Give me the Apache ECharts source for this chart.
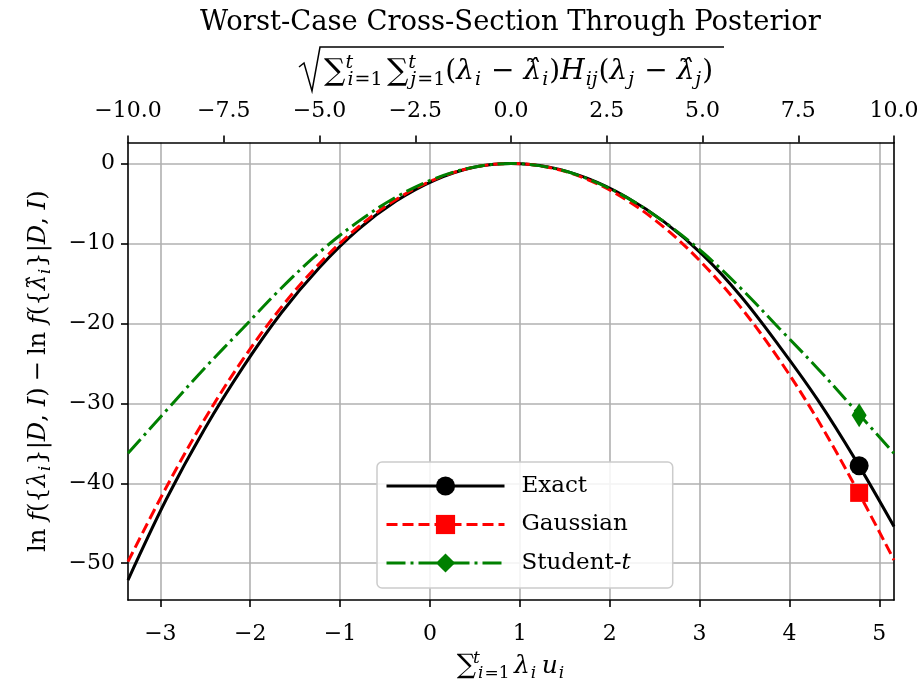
<!DOCTYPE html>
<html>
<head>
<meta charset="utf-8">
<script src="https://cdn.jsdelivr.net/npm/echarts@6/dist/echarts.min.js"></script>
<style>
html,body{margin:0;padding:0;background:#fff;}
#chart{width:923px;height:688px;}
</style>
</head>
<body>
<div id="chart"></div>
<script>
// ---- data ----
// top-axis coordinate s (Mahalanobis distance, signed)
const sValues   = [-10, -9, -8, -7, -6, -5, -4, -3, -2, -1, 0, 1, 2, 3, 4, 5, 6, 7, 8, 9, 10];
const exactY    = [-52.1, -42.0, -33.2, -25.5, -18.7, -13.0, -8.3, -4.7, -2.1, -0.5, 0, -0.45, -1.85, -4.15, -7.3, -11.4, -16.6, -22.8, -29.5, -37.1, -45.4];
const gaussY    = [-49.8, -40.5, -32.0, -24.5, -18.0, -12.5, -8.0, -4.5, -2.0, -0.5, 0, -0.5, -2.0, -4.5, -8.0, -12.5, -18.0, -24.5, -32.0, -40.5, -49.6];
const studentY  = [-36.25, -30.9, -25.6, -20.6, -15.6, -11.1, -7.3, -4.2, -1.9, -0.48, 0, -0.48, -1.9, -4.2, -7.3, -11.1, -15.6, -20.6, -25.6, -30.9, -36.25];
// single highlighted marker per series
const markerS        = 9.09;
const markerExact    = -37.8;
const markerGauss    = -41.2;
const markerStudent  = -31.5;
// axis ticks
const bottomTicks = [-3, -2, -1, 0, 1, 2, 3, 4, 5];
const leftTicks   = [-50, -40, -30, -20, -10, 0];
const seriesNames = ['Exact', 'Gaussian', 'Student-t'];

const FONT = 'DejaVu Serif';
const minus = v => (v < 0 ? '\u2212' : '') + Math.abs(v);

function pairs(xs, ys) { return xs.map((x, i) => [x, ys[i]]); }

function makeRich(main, sub, lh, opPad) {
  return {
    r:    {fontFamily: FONT, fontSize: main, lineHeight: lh, color: '#000'},
    op:   {fontFamily: FONT, fontSize: main, lineHeight: lh, color: '#000', padding: [0, opPad, 0, opPad]},
    i:    {fontFamily: FONT, fontSize: main, fontStyle: 'italic', lineHeight: lh, color: '#000'},
    sum:  {fontFamily: FONT, fontSize: main + 2, lineHeight: lh, color: '#000'},
    sup0: {fontFamily: FONT, fontSize: sub, fontStyle: 'italic', lineHeight: sub, verticalAlign: 'top', width: 1, color: '#000'},
    subi: {fontFamily: FONT, fontSize: sub, fontStyle: 'italic', lineHeight: sub, verticalAlign: 'bottom', color: '#000', padding: [0, 1, 0, 1]},
    subr: {fontFamily: FONT, fontSize: sub, lineHeight: sub, verticalAlign: 'bottom', color: '#000'},
    sp:   {fontFamily: FONT, fontSize: 14, lineHeight: lh}
  };
}
const richTop = makeRich(28, 19, 36, 9);
const richAxis = makeRich(24.2, 16.5, 31, 6);
const richBottom = makeRich(25, 17, 32, 6);

const topFormula = '{sum|∑}{sup0|t}{subi|i}{subr|=1}{sp| }{sum|∑}{sup0|t}{subi|j}{subr|=1}{r|(}{i|λ}{subi|i}{op|−}{i|λ̂}{subi|i}{r|)}{i|H}{subi|ij}{r|(}{i|λ}{subi|j}{op|−}{i|λ̂}{subi|j}{r|)}';
const bottomName = '{sum|∑}{sup0|t}{subi|i}{subr|=1}{sp| }{i|λ}{subi|i}{sp| }{i|u}{subi|i}';
const leftName = '{r|ln }{i|f}{r|(\{}{i|λ}{subi|i}}{r||}{i|D}{r|, }{i|I}{r|)}{op|−}{r|ln }{i|f}{r|(\{}{i|λ̂}{subi|i}}{r||}{i|D}{r|, }{i|I}{r|)}';

const axisLineStyle = {color: '#000', width: 1.6};
const chart = echarts.init(document.getElementById('chart'), null, {renderer: 'canvas'});

const lineColors = ['#000000', '#ff0000', '#008000'];
const lineTypes = ['solid', [11, 5], [19, 5, 3, 5]];
const symbols = ['circle', 'rect', 'diamond'];
const ys = [exactY, gaussY, studentY];
const markerVals = [markerExact, markerGauss, markerStudent];
const markerSizes = [19, 18, [15, 24]];

const series = seriesNames.map((name, k) => ({
  name: name,
  type: 'line',
  xAxisIndex: 1,
  yAxisIndex: 0,
  data: pairs(sValues, ys[k]),
  smooth: 0.35,
  symbol: symbols[k],
  showSymbol: false,
  lineStyle: {color: lineColors[k], width: 3, type: lineTypes[k]},
  itemStyle: {color: lineColors[k]},
  z: 3 + k,
  markPoint: {
    silent: true,
    symbol: symbols[k],
    symbolSize: markerSizes[k],
    itemStyle: {color: lineColors[k]},
    label: {show: false},
    data: [{coord: [markerS, markerVals[k]]}]
  }
}));

const option = {
  animation: false,
  backgroundColor: '#fff',
  title: {
    text: 'Worst-Case Cross-Section Through Posterior',
    left: 195,
    top: 4,
    textStyle: {fontFamily: FONT, fontSize: 27.4, fontWeight: 'normal', color: '#000'}
  },
  grid: {left: 128, right: 29, top: 142.5, bottom: 88, containLabel: false},
  legend: {
    orient: 'vertical',
    left: 377,
    top: 462,
    itemWidth: 118,
    itemHeight: 24,
    itemGap: 14.5,
    padding: [12, 42, 13, 8],
    backgroundColor: 'rgba(255,255,255,0.85)',
    borderColor: '#cccccc',
    borderWidth: 1.5,
    borderRadius: 5,
    data: seriesNames,
    lineStyle: {width: 3},
    formatter: n => n === 'Student-t' ? 'Student-{it|t}' : n,
    textStyle: {
      fontFamily: FONT, fontSize: 23, color: '#000', lineHeight: 24, padding: [0, 0, 0, 12],
      rich: {it: {fontFamily: FONT, fontSize: 23, fontStyle: 'italic', color: '#000'}}
    }
  },
  xAxis: [
    {
      type: 'value',
      position: 'bottom',
      min: -3.36,
      max: 5.164,
      axisLine: {show: true, onZero: false, lineStyle: axisLineStyle},
      axisTick: {show: true, length: 7, lineStyle: axisLineStyle, customValues: bottomTicks},
      axisLabel: {customValues: bottomTicks, formatter: minus, fontFamily: FONT, fontSize: 22, color: '#000', margin: 23},
      splitLine: {show: true, lineStyle: {color: '#b0b0b0', width: 1.6}},
      name: bottomName,
      nameLocation: 'middle',
      nameGap: 50,
      nameTextStyle: {fontFamily: FONT, fontSize: 25, color: '#000', rich: richBottom}
    },
    {
      type: 'value',
      position: 'top',
      min: -10,
      max: 10,
      interval: 2.5,
      axisLine: {show: true, onZero: false, lineStyle: axisLineStyle},
      axisTick: {show: true, length: 7, lineStyle: axisLineStyle},
      axisLabel: {formatter: v => (v < 0 ? '\u2212' : '') + Math.abs(v).toFixed(1), fontFamily: FONT, fontSize: 22, color: '#000', margin: 20, showMinLabel: true, showMaxLabel: true},
      splitLine: {show: false}
    }
  ],
  yAxis: [
    {
      type: 'value',
      position: 'left',
      min: -54.6,
      max: 2.63,
      axisLine: {show: true, onZero: false, lineStyle: axisLineStyle},
      axisTick: {show: true, length: 7, lineStyle: axisLineStyle, customValues: leftTicks},
      axisLabel: {customValues: leftTicks, formatter: minus, fontFamily: FONT, fontSize: 22, color: '#000', margin: 13},
      splitLine: {show: true, lineStyle: {color: '#b0b0b0', width: 1.6}},
      name: leftName,
      nameLocation: 'middle',
      nameRotate: 90,
      nameGap: 74,
      nameTextStyle: {fontFamily: FONT, fontSize: 24.2, color: '#000', rich: richAxis}
    },
    {
      type: 'value',
      position: 'right',
      min: -54.6,
      max: 2.63,
      axisLine: {show: true, onZero: false, lineStyle: axisLineStyle},
      axisTick: {show: false},
      axisLabel: {show: false},
      splitLine: {show: false}
    }
  ],
  graphic: [
    {
      type: 'polyline',
      silent: true,
      shape: {points: [[299, 67], [304, 63], [312, 91], [320, 47], [724, 47]]},
      style: {stroke: '#000', lineWidth: 1.5, fill: null}
    },
    {
      type: 'text',
      silent: true,
      x: 324,
      y: 72,
      style: {
        text: topFormula,
        rich: richTop,
        fontFamily: FONT,
        fontSize: 28,
        fill: '#000',
        align: 'left',
        verticalAlign: 'middle'
      }
    }
  ],
  series: series
};
chart.setOption(option);
</script>
</body>
</html>
